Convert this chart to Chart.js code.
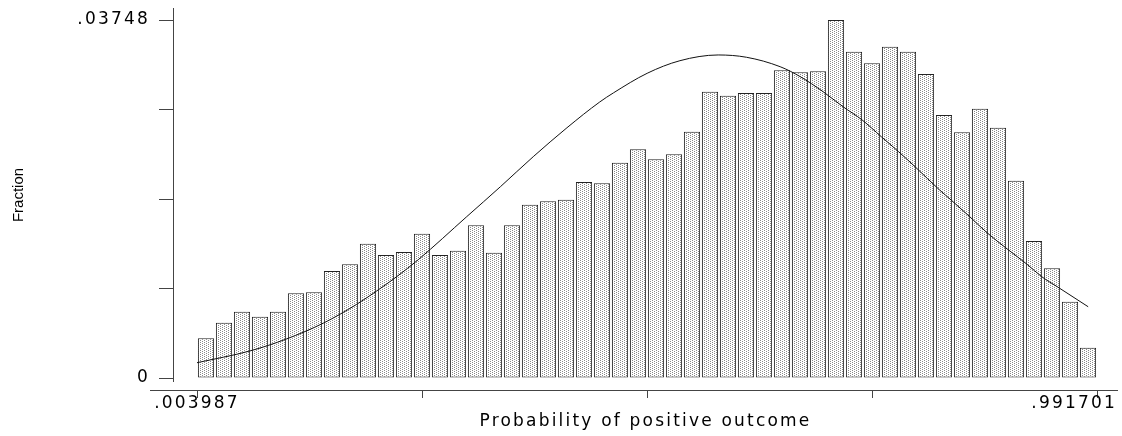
<!DOCTYPE html>
<html>
<head>
<meta charset="utf-8">
<script src="https://cdn.jsdelivr.net/npm/chart.js@4.4.1/dist/chart.umd.min.js"></script>
<style>
  html, body { margin: 0; padding: 0; background: #fff; }
  canvas { display: block; }
</style>
</head>
<body>
<canvas id="histChart" width="1122" height="436"></canvas>
<script>
// histogram, 50 equal bins between the two labelled x ticks
const xMin = 0.003987;
const xMax = 0.991701;
const yMax = 0.03748;

const xTickLabels = ['.003987', '', '', '', '.991701'];
const yTickLabels = ['0', '', '', '', '.03748'];

const fractions = [
  0.00416, 0.00579, 0.00694, 0.00642, 0.00694, 0.00887, 0.00897, 0.0112, 0.0119, 0.01406,
  0.01288, 0.01319, 0.01511, 0.01288, 0.01333, 0.01599, 0.01312, 0.01599, 0.01814, 0.0185,
  0.01867, 0.02052, 0.02038, 0.02254, 0.02394, 0.0229, 0.02342, 0.02579, 0.02997, 0.02956,
  0.02984, 0.02984, 0.03221, 0.032, 0.03211, 0.03748, 0.03416, 0.03295, 0.03469, 0.03416,
  0.03183, 0.02753, 0.02572, 0.0282, 0.0262, 0.02066, 0.01434, 0.01148, 0.00799, 0.00317
];

// normal curve overlay
const curveX = [
  0.004, 0.062, 0.102, 0.143, 0.179, 0.201, 0.223, 0.247, 0.300, 0.337,
  0.373, 0.410, 0.446, 0.461, 0.498, 0.534, 0.576, 0.607, 0.644, 0.666,
  0.691, 0.713, 0.734, 0.755, 0.774, 0.792, 0.819, 0.832, 0.852, 0.871,
  0.893, 0.915, 0.931, 0.949, 0.982
];
const curveY = [
  0.0016, 0.00283, 0.00408, 0.00576, 0.0077, 0.0091, 0.0106, 0.0124, 0.01689, 0.02003,
  0.02317, 0.0262, 0.0289, 0.02985, 0.0319, 0.03322, 0.03382, 0.03358, 0.03259, 0.03155,
  0.02998, 0.0284, 0.02701, 0.02526, 0.02369, 0.02212, 0.01968, 0.0186, 0.01689, 0.01521,
  0.01352, 0.0119, 0.01061, 0.0095, 0.00746
];

const xTitle = 'Probability of positive outcome';
const yTitle = 'Fraction';

document.addEventListener('DOMContentLoaded', () => {
  const canvas = document.getElementById('histChart');
  const ctx = canvas.getContext('2d');

  const binW = (xMax - xMin) / fractions.length;
  const binCenters = fractions.map((_, i) => xMin + (i + 0.5) * binW);
  const xTickVals = xTickLabels.map((_, i) => xMin + i * (xMax - xMin) / (xTickLabels.length - 1));
  const yTickVals = yTickLabels.map((_, i) => i * yMax / (yTickLabels.length - 1));

  // dotted fill for the bars
  const tile = document.createElement('canvas');
  tile.width = 4;
  tile.height = 2;
  const t = tile.getContext('2d');
  t.fillStyle = '#fff';
  t.fillRect(0, 0, 4, 2);
  t.fillStyle = '#8a8a8a';
  t.fillRect(0, 0, 1, 1);
  t.fillRect(2, 1, 1, 1);
  const dots = ctx.createPattern(tile, 'repeat');

  // px per unit: 900px between the end ticks, 358px from 0 to yMax
  const xPx = (xMax - xMin) / 900;
  const yPx = yMax / 358;
  const font = 'DejaVu Sans';

  const stataAxes = {
    id: 'stataAxes',
    beforeDraw(chart) {
      chart.ctx.letterSpacing = '2.2px';
    },
    afterDraw(chart) {
      const { ctx, chartArea, scales: { x, y } } = chart;
      ctx.save();
      ctx.strokeStyle = '#444';
      ctx.lineWidth = 1;
      ctx.beginPath();
      ctx.moveTo(chartArea.left + 0.5, chartArea.top);
      ctx.lineTo(chartArea.left + 0.5, y.getPixelForValue(0) + 4);
      ctx.moveTo(chartArea.left - 23, chartArea.bottom + 0.5);
      ctx.lineTo(chartArea.right, chartArea.bottom + 0.5);
      ctx.stroke();

      // x tick labels, kept inside the canvas like Stata does
      ctx.fillStyle = '#000';
      ctx.font = '17px "' + font + '"';
      ctx.textBaseline = 'middle';
      ctx.textAlign = 'left';
      x.ticks.forEach((tk, i) => {
        const label = xTickLabels[i];
        if (!label) return;
        const w = ctx.measureText(label).width;
        let left = x.getPixelForValue(tk.value) - w / 2;
        left = Math.min(left, chart.width - 5 - w);
        ctx.fillText(label, left, chartArea.bottom + 14);
      });

      ctx.letterSpacing = '0px';
      ctx.font = '15px "Liberation Sans"';
      ctx.textAlign = 'center';
      ctx.translate(19, (chartArea.top + chartArea.bottom) / 2 - 4);
      ctx.rotate(-Math.PI / 2);
      ctx.fillText(yTitle, 0, 0);
      ctx.restore();
    }
  };

  new Chart(ctx, {
    type: 'bar',
    data: {
      datasets: [
        {
          type: 'line',
          data: curveX.map((v, i) => ({ x: v, y: curveY[i] })),
          borderColor: '#111',
          borderWidth: 1,
          pointRadius: 0,
          cubicInterpolationMode: 'monotone',
          fill: false,
          order: 0
        },
        {
          type: 'bar',
          data: binCenters.map((v, i) => ({ x: v, y: fractions[i] })),
          backgroundColor: dots,
          borderColor: '#222',
          borderWidth: 1,
          borderSkipped: false,
          categoryPercentage: 1,
          barPercentage: 0.9,
          order: 1
        }
      ]
    },
    options: {
      responsive: false,
      animation: false,
      devicePixelRatio: 1,
      layout: { padding: { top: 8, right: 4, left: 0, bottom: 0 } },
      plugins: {
        legend: { display: false },
        tooltip: { enabled: false }
      },
      scales: {
        x: {
          type: 'linear',
          offset: false,
          min: xMin - 24 * xPx,
          max: xMax + 21 * xPx,
          border: { display: false },
          grid: { drawOnChartArea: false, tickLength: 8, color: '#444', offset: false },
          ticks: { display: false, autoSkip: false },
          afterBuildTicks: s => { s.ticks = xTickVals.map(v => ({ value: v })); },
          afterFit: s => { s.height = 46; s.paddingLeft = 0; s.paddingRight = 0; },
          title: {
            display: true,
            text: xTitle,
            color: '#000',
            font: { family: font, size: 17 },
            padding: { top: 0, bottom: 4 }
          }
        },
        y: {
          min: -12 * yPx,
          max: yMax + 12 * yPx,
          border: { display: false },
          grid: { drawOnChartArea: false, tickLength: 14, color: '#444' },
          ticks: {
            autoSkip: false,
            padding: 9,
            color: '#000',
            font: { family: font, size: 17 },
            callback: (v, i) => yTickLabels[i]
          },
          afterBuildTicks: s => { s.ticks = yTickVals.map(v => ({ value: v })); },
          afterFit: s => { s.width = 173; s.paddingTop = 0; s.paddingBottom = 0; }
        }
      }
    },
    plugins: [stataAxes]
  });
});
</script>
</body>
</html>
